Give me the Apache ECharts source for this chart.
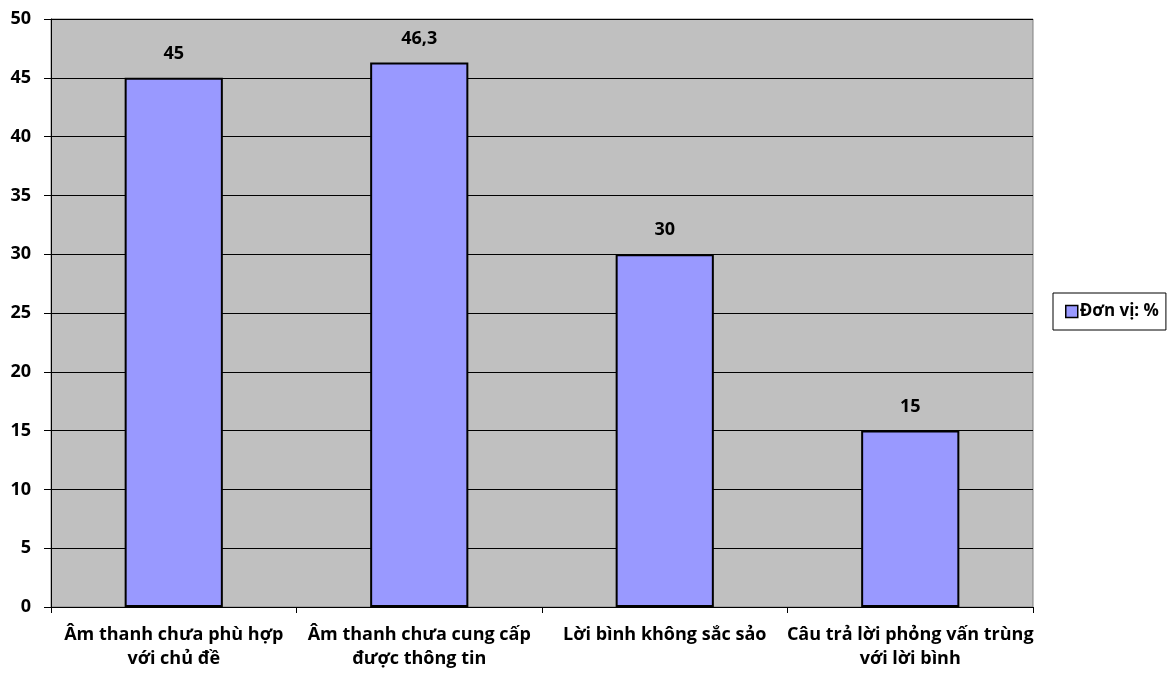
<!DOCTYPE html>
<html>
<head>
<meta charset="utf-8">
<script src="https://cdn.jsdelivr.net/npm/echarts@6/dist/echarts.min.js"></script>
<style>
  html, body { margin: 0; padding: 0; background: #fff; }
  #chart { width: 1173px; height: 673px; }
</style>
</head>
<body>
<div id="chart"></div>
<script>
// Categories and values (percent)
const categories = [
  'Âm thanh chưa phù hợp\nvới chủ đề',
  'Âm thanh chưa cung cấp\nđược thông tin',
  'Lời bình không sắc sảo',
  'Câu trả lời phỏng vấn trùng\nvới lời bình'
];
const values = [45, 46.3, 30, 15];
const seriesName = 'Đơn vị: %';

const FONT = '"Open Sans", sans-serif';

const chart = echarts.init(document.getElementById('chart'));
chart.setOption({
  animation: false,
  backgroundColor: '#ffffff',
  grid: {
    left: 51, right: 140, top: 19, bottom: 66,
    show: true,
    backgroundColor: '#c0c0c0',
    borderColor: '#808080',
    borderWidth: 1
  },
  legend: {
    data: [seriesName],
    left: 1053,
    top: 293,
    orient: 'vertical',
    padding: [10, 7, 10, 12],
    borderColor: '#000',
    borderWidth: 1,
    backgroundColor: '#fff',
    itemWidth: 12,
    itemHeight: 12,
    itemGap: 4,
    icon: 'rect',
    itemStyle: { borderWidth: 1.5, borderColor: '#000' },
    textStyle: { fontFamily: FONT, fontWeight: 'bold', fontSize: 17, color: '#000', padding: [0, 0, 0, -3] }
  },
  xAxis: {
    type: 'category',
    data: categories,
    axisLine: { lineStyle: { color: '#000', width: 1 } },
    axisTick: { show: true, length: 6, lineStyle: { color: '#000' } },
    axisLabel: {
      interval: 0,
      margin: 16,
      color: '#000',
      fontFamily: FONT,
      fontWeight: 'bold',
      fontSize: 18,
      lineHeight: 24,
      align: 'center'
    }
  },
  yAxis: {
    type: 'value',
    min: 0, max: 50, interval: 5,
    axisLine: { show: true, lineStyle: { color: '#000', width: 1 } },
    axisTick: { show: true, length: 7, lineStyle: { color: '#000' } },
    splitLine: { show: true, lineStyle: { color: '#000', width: 1 } },
    axisLabel: {
      margin: 20,
      color: '#000',
      fontFamily: FONT,
      fontWeight: 'bold',
      fontSize: 18
    }
  },
  series: [{
    name: seriesName,
    type: 'bar',
    data: values,
    barWidth: '40%',
    itemStyle: { color: '#9999ff', borderColor: '#000', borderWidth: 2 },
    label: {
      show: true,
      position: 'top',
      distance: 15,
      color: '#000',
      fontFamily: FONT,
      fontWeight: 'bold',
      fontSize: 18,
      formatter: p => String(p.value).replace('.', ',')
    }
  }]
});
</script>
</body>
</html>
